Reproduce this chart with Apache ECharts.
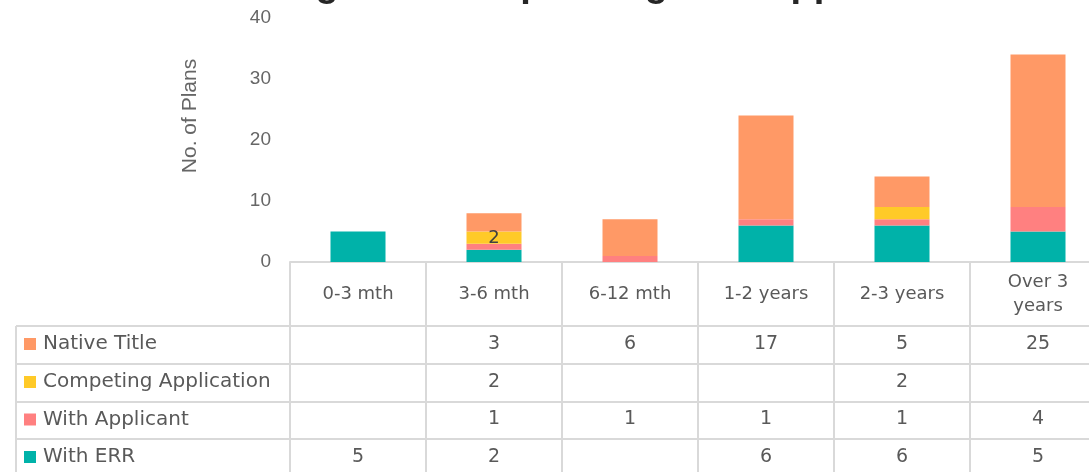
<!DOCTYPE html>
<html>
<head>
<meta charset="utf-8">
<script src="https://cdn.jsdelivr.net/npm/echarts@6/dist/echarts.min.js"></script>
<style>
html,body{margin:0;padding:0;background:#fff;overflow:hidden;}
#main{width:1106px;height:472px;}
</style>
</head>
<body>
<div id="main"></div>
<script>
// 数据
var categories = ['0-3 mth', '3-6 mth', '6-12 mth', '1-2 years', '2-3 years', 'Over 3 years'];
var headerLabels = ['0-3 mth', '3-6 mth', '6-12 mth', '1-2 years', '2-3 years', 'Over 3\nyears'];
var seriesNames = ['With ERR', 'With Applicant', 'Competing Application', 'Native Title'];
var withERR = [5, 2, null, 6, 6, 5];
var withApplicant = [null, 1, 1, 1, 1, 4];
var competing = [null, 2, null, null, 2, null];
var nativeTitle = [null, 3, 6, 17, 5, 25];
var yTicks = [0, 10, 20, 30, 40];
var labelledCompeting = [1]; // only this cell shows a data label
var colors = ['#00B2A9', '#FF8080', '#FFCA28', '#FF9966'];

var tableFont = '"DejaVu Sans", sans-serif';
var grey = '#595959';
var lineGrey = '#d9d9d9';

var chart = echarts.init(document.getElementById('main'));

function mkSeries(name, values, color, labelIdx) {
    return {
        name: name,
        type: 'bar',
        stack: 'total',
        barWidth: 55,
        itemStyle: {color: color},
        data: values.map(function (v, i) {
            if (labelIdx && labelIdx.indexOf(i) >= 0) {
                return {
                    value: v,
                    label: {
                        show: true,
                        position: 'inside',
                        offset: [0, 1],
                        color: '#404040',
                        fontFamily: tableFont,
                        fontSize: 18
                    }
                };
            }
            return v;
        })
    };
}

var option = {
    animation: false,
    backgroundColor: '#fff',
    color: colors,
    grid: {
        left: 290,
        top: 18,
        width: 816,
        height: 244,
        containLabel: false
    },
    xAxis: {
        type: 'category',
        data: categories,
        axisLine: {lineStyle: {color: lineGrey, width: 2}},
        axisTick: {
            show: true,
            length: 215,
            lineStyle: {color: lineGrey, width: 2}
        },
        axisLabel: {
            interval: 0,
            margin: 32,
            verticalAlign: 'middle',
            lineHeight: 24,
            color: grey,
            fontFamily: tableFont,
            fontSize: 18,
            formatter: function (v, i) { return headerLabels[i]; }
        }
    },
    yAxis: {
        type: 'value',
        min: yTicks[0],
        max: yTicks[yTicks.length - 1],
        interval: 10,
        splitLine: {show: false},
        axisLine: {show: false},
        axisTick: {show: false},
        axisLabel: {
            margin: 19,
            color: '#666',
            fontFamily: '"Liberation Sans", Arial, sans-serif',
            fontSize: 19
        }
    },
    series: [
        mkSeries(seriesNames[0], withERR, colors[0]),
        mkSeries(seriesNames[1], withApplicant, colors[1]),
        mkSeries(seriesNames[2], competing, colors[2], labelledCompeting),
        mkSeries(seriesNames[3], nativeTitle, colors[3])
    ]
};
chart.setOption(option);

// 数据表 (data table under the axis)
var rowTops = [326, 364, 402, 439, 477];
var rows = [
    {name: 'Native Title', values: nativeTitle, color: colors[3]},
    {name: 'Competing Application', values: competing, color: colors[2]},
    {name: 'With Applicant', values: withApplicant, color: colors[1]},
    {name: 'With ERR', values: withERR, color: colors[0]}
];
var g = [];
// title (cropped at the top)
g.push({
    type: 'text', left: 248, top: -33, silent: true,
    style: {
        text: 'Length of time pending ERR approval',
        fill: '#262626',
        font: 'bold 38px "Liberation Sans", Arial, sans-serif'
    }
});
// y axis name
g.push({
    type: 'text', x: 190, y: 116, rotation: Math.PI / 2,
    style: {
        text: 'No. of Plans', fill: '#666',
        font: '21px "Liberation Sans", Arial, sans-serif',
        align: 'center', verticalAlign: 'middle'
    }
});
for (var r = 0; r < rowTops.length - 1; r++) {
    g.push({
        type: 'line', silent: true,
        shape: {x1: 16, y1: rowTops[r], x2: 1106, y2: rowTops[r]},
        style: {stroke: lineGrey, lineWidth: 2}
    });
}
g.push({
    type: 'line', silent: true,
    shape: {x1: 16, y1: rowTops[0], x2: 16, y2: 472},
    style: {stroke: lineGrey, lineWidth: 2}
});
rows.forEach(function (row, r) {
    var cy = (rowTops[r] + rowTops[r + 1]) / 2 - 1;
    g.push({
        type: 'rect', silent: true,
        shape: {x: 24, y: cy - 6, width: 12, height: 12},
        style: {fill: row.color}
    });
    g.push({
        type: 'text', silent: true, x: 43, y: cy,
        style: {text: row.name, fill: grey, font: '20px ' + tableFont, verticalAlign: 'middle'}
    });
    row.values.forEach(function (v, i) {
        if (v == null) return;
        var cx = chart.convertToPixel({xAxisIndex: 0}, i);
        g.push({
            type: 'text', silent: true, x: cx, y: cy,
            style: {text: String(v), fill: grey, font: '19px ' + tableFont, align: 'center', verticalAlign: 'middle'}
        });
    });
});
chart.setOption({graphic: g});
</script>
</body>
</html>
